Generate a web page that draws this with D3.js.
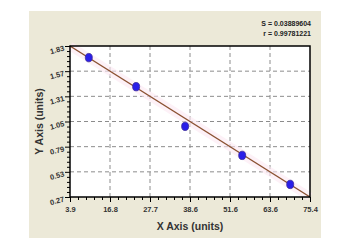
<!DOCTYPE html>
<html><head><meta charset="utf-8">
<script src="https://cdn.jsdelivr.net/npm/d3@7"></script>
<style>body{margin:0;background:#fff}svg{display:block}</style>
</head><body>
<script>
const xTickLabels = ["3.9","16.8","27.7","38.6","51.6","63.6","75.4"];
const yTickValues = [0.27,0.53,0.79,1.05,1.31,1.57,1.83];
const pointX = [9.5, 23.6, 38.2, 55.2, 69.5];
const pointY = [1.71, 1.41, 1.00, 0.70, 0.40];
const fitX = [3.9, 75.4];
const fitY = [1.83, 0.27];
const statLines = ["S = 0.03889604","r = 0.99781221"];

const W=341,H=244;
const svg=d3.select("body").append("svg").attr("width",W).attr("height",H);
svg.append("rect").attr("x",29).attr("y",11).attr("width",292).attr("height",227).attr("fill","#ECE9D8");

const m={l:70,r:310,t:46,b:197};
const x=d3.scaleLinear().domain([3.9,75.4]).range([m.l,m.r]);
const y=d3.scaleLinear().domain([0.27,1.83]).range([m.b,m.t]);
const xIdx=d3.scaleLinear().domain([0,xTickLabels.length-1]).range([3.9,75.4]);
const xTickVals=xTickLabels.map((d,i)=>xIdx(i));

svg.append("rect").attr("x",m.l).attr("y",m.t).attr("width",m.r-m.l).attr("height",m.b-m.t).attr("fill","#fff");

const g=svg.append("g");
g.selectAll("line.vx").data(xTickVals.slice(1,-1)).join("line")
 .attr("x1",d=>x(d)).attr("x2",d=>x(d)).attr("y1",m.t).attr("y2",m.b)
 .attr("stroke","#8c8c8c").attr("stroke-dasharray","4,3").attr("stroke-width",1);
g.selectAll("line.hy").data(yTickValues.slice(1,-1)).join("line")
 .attr("y1",d=>y(d)).attr("y2",d=>y(d)).attr("x1",m.l).attr("x2",m.r)
 .attr("stroke","#8c8c8c").attr("stroke-dasharray","4,3").attr("stroke-width",1);

svg.append("line").attr("x1",x(fitX[0])).attr("y1",y(fitY[0])).attr("x2",x(fitX[1])).attr("y2",y(fitY[1]))
 .attr("stroke","#fde8f3").attr("stroke-width",9).attr("opacity",0.6);
svg.append("line").attr("x1",x(fitX[0])).attr("y1",y(fitY[0])).attr("x2",x(fitX[1])).attr("y2",y(fitY[1]))
 .attr("stroke","#8a5030").attr("stroke-width",1.4);

svg.selectAll("ellipse.pt").data(pointX).join("ellipse")
 .attr("cx",(d)=>x(d)).attr("cy",(d,i)=>y(pointY[i])).attr("rx",3.5).attr("ry",4.2)
 .attr("fill","#2a1ee8").attr("stroke","#3a2a9a").attr("stroke-width",0.8);

svg.append("rect").attr("x",m.l).attr("y",m.t).attr("width",m.r-m.l).attr("height",m.b-m.t)
 .attr("fill","none").attr("stroke","#000").attr("stroke-width",1.5);

const xMinor=[];
for(let i=0;i<xTickVals.length-1;i++){for(let k=1;k<5;k++)xMinor.push(xTickVals[i]+(xTickVals[i+1]-xTickVals[i])*k/5);}
const yMinor=[];
for(let i=0;i<yTickValues.length-1;i++){for(let k=1;k<5;k++)yMinor.push(yTickValues[i]+(yTickValues[i+1]-yTickValues[i])*k/5);}

const xAxis=svg.append("g").attr("transform",`translate(0,${m.b})`)
 .call(d3.axisBottom(x).tickValues(xTickVals).tickSize(5).tickFormat((d,i)=>xTickLabels[i]));
xAxis.append("g").call(d3.axisBottom(x).tickValues(xMinor).tickSize(3).tickFormat(""));
const yAxis=svg.append("g").attr("transform",`translate(${m.l},0)`)
 .call(d3.axisLeft(y).tickValues(yTickValues).tickSize(5).tickFormat(d3.format(".2f")));
yAxis.append("g").call(d3.axisLeft(y).tickValues(yMinor).tickSize(3).tickFormat(""));
svg.selectAll(".domain").remove();
svg.selectAll(".tick line").attr("stroke","#000").attr("stroke-width",1);
xAxis.selectAll("text").attr("font-family","Liberation Sans, Arial").attr("font-weight","bold").attr("font-size",7.5).attr("fill","#333").attr("dy","0.9em");
yAxis.selectAll(".tick text").attr("font-family","Liberation Sans, Arial").attr("font-weight","bold").attr("font-size",7.5).attr("fill","#333")
 .attr("transform","rotate(-15)").attr("x",-6).attr("dy","0.32em");

svg.append("text").attr("x",(m.l+m.r)/2).attr("y",230).attr("text-anchor","middle")
 .attr("font-family","Liberation Sans, Arial").attr("font-weight","bold").attr("font-size",10.5).attr("fill","#333").text("X Axis (units)");
svg.append("text").attr("transform",`translate(43,${(m.t+m.b)/2}) rotate(-90)`).attr("text-anchor","middle")
 .attr("font-family","Liberation Sans, Arial").attr("font-weight","bold").attr("font-size",10.5).attr("fill","#333").text("Y Axis (units)");

svg.selectAll("text.stat").data(statLines).join("text").attr("class","stat")
 .attr("x",311).attr("y",(d,i)=>26+i*10).attr("text-anchor","end")
 .attr("font-family","Liberation Sans, Arial").attr("font-weight","bold").attr("font-size",7).attr("fill","#222").text(d=>d);
</script>
</body></html>
